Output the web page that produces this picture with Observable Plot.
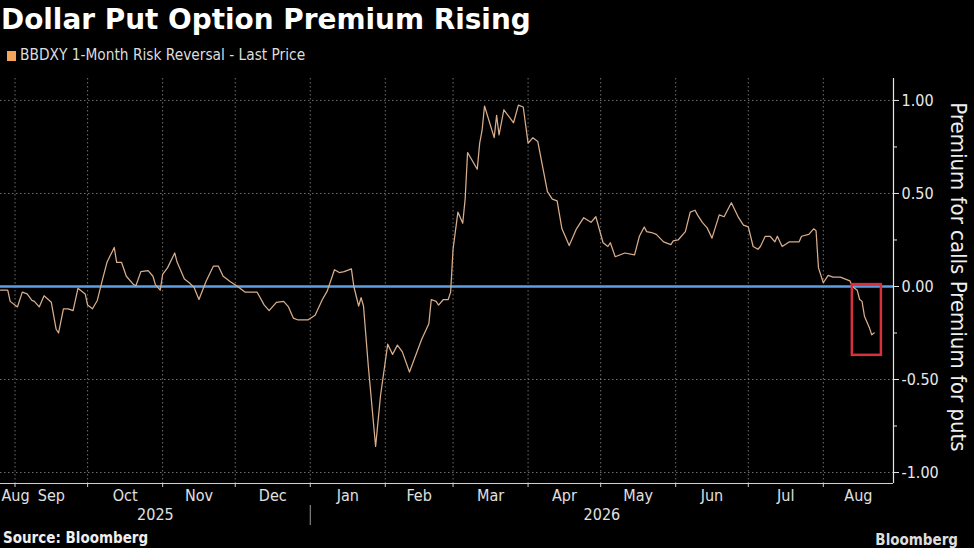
<!DOCTYPE html>
<html>
<head>
<meta charset="utf-8">
<script src="https://cdn.jsdelivr.net/npm/d3@7"></script>
<script src="https://cdn.jsdelivr.net/npm/@observablehq/plot@0.6"></script>
<style>
  html, body { margin: 0; padding: 0; background: #000; }
  body { width: 974px; height: 548px; overflow: hidden; position: relative; }
  #title { height: 42px; line-height: 40px; font-family: "DejaVu Sans", sans-serif; font-weight: bold; font-size: 27.9px; color: #fff; padding-left: 1px; white-space: nowrap; }
  #legend { height: 26px; line-height: 26px; font-family: "DejaVu Sans Condensed", "DejaVu Sans", sans-serif; font-stretch: condensed; font-size: 15.3px; color: #ddd; white-space: nowrap; }
  #legend .sw { display: inline-block; width: 9px; height: 10px; background: #f4a45c; margin-left: 7px; margin-right: 4px; vertical-align: -1px; }
  #chart { height: 460px; }
  #footer { height: 20px; line-height: 20px; font-family: "DejaVu Sans Condensed", "DejaVu Sans", sans-serif; font-stretch: condensed; font-weight: bold; font-size: 15px; color: #eee; position: relative; }
  #footer .src { position: absolute; left: 3px; top: 0; }
  #footer .brand { position: absolute; right: 16px; top: 2px; color: #ddd; }
</style>
</head>
<body>
<div id="title">Dollar Put Option Premium Rising</div>
<div id="legend"><span class="sw"></span>BBDXY 1-Month Risk Reversal - Last Price</div>
<div id="chart"></div>
<div id="footer"><span class="src">Source: Bloomberg</span><span class="brand">Bloomberg</span></div>
<script>
// ---- data ----
const dates = [
  "2025-08-26","2025-08-29","2025-08-30","2025-09-02","2025-09-04","2025-09-06","2025-09-08","2025-09-09",
  "2025-09-11","2025-09-13","2025-09-16","2025-09-18","2025-09-19","2025-09-21","2025-09-23","2025-09-25",
  "2025-09-27","2025-09-30","2025-10-01","2025-10-03","2025-10-05","2025-10-07","2025-10-09","2025-10-12",
  "2025-10-13","2025-10-15","2025-10-17","2025-10-20","2025-10-21","2025-10-23","2025-10-26","2025-10-28",
  "2025-10-29","2025-10-31","2025-11-01","2025-11-03","2025-11-06","2025-11-07","2025-11-10","2025-11-12",
  "2025-11-14","2025-11-16","2025-11-19","2025-11-22","2025-11-24","2025-11-26","2025-11-29","2025-12-02",
  "2025-12-05","2025-12-08","2025-12-10","2025-12-13","2025-12-15","2025-12-18","2025-12-21","2025-12-23",
  "2025-12-25","2025-12-27","2025-12-31","2026-01-03","2026-01-06","2026-01-08","2026-01-11","2026-01-13",
  "2026-01-15","2026-01-18","2026-01-19","2026-01-21","2026-01-22","2026-01-23","2026-01-25","2026-01-28",
  "2026-01-30","2026-02-02","2026-02-04","2026-02-06","2026-02-08","2026-02-11","2026-02-13","2026-02-16",
  "2026-02-19","2026-02-20","2026-02-22","2026-02-23","2026-02-25","2026-02-27","2026-02-28","2026-03-01",
  "2026-03-03","2026-03-05","2026-03-06","2026-03-07","2026-03-11","2026-03-12","2026-03-13","2026-03-14",
  "2026-03-18","2026-03-19","2026-03-20","2026-03-22","2026-03-26","2026-03-28","2026-03-30","2026-04-01",
  "2026-04-03","2026-04-05","2026-04-09","2026-04-11","2026-04-13","2026-04-15","2026-04-18","2026-04-21",
  "2026-04-24","2026-04-27","2026-04-29","2026-05-02","2026-05-04","2026-05-05","2026-05-07","2026-05-11",
  "2026-05-15","2026-05-17","2026-05-19","2026-05-20","2026-05-22","2026-05-24","2026-05-27","2026-05-30",
  "2026-05-31","2026-06-02","2026-06-05","2026-06-07","2026-06-09","2026-06-10","2026-06-12","2026-06-14",
  "2026-06-16","2026-06-19","2026-06-21","2026-06-22","2026-06-24","2026-06-27","2026-06-29","2026-07-01",
  "2026-07-03","2026-07-05","2026-07-06","2026-07-08","2026-07-10","2026-07-12","2026-07-13","2026-07-15",
  "2026-07-18","2026-07-22","2026-07-23","2026-07-26","2026-07-28","2026-07-29","2026-07-30","2026-08-01",
  "2026-08-03","2026-08-05","2026-08-08","2026-08-12","2026-08-13","2026-08-15","2026-08-16","2026-08-17",
  "2026-08-18","2026-08-20","2026-08-21","2026-08-22"
];
const values = [
  -0.02,-0.02,-0.08,-0.11,-0.03,-0.04,-0.075,-0.08,
  -0.11,-0.05,-0.085,-0.23,-0.25,-0.12,-0.12,-0.13,
  -0.01,-0.04,-0.10,-0.12,-0.075,0.03,0.13,0.21,
  0.13,0.13,0.055,0.01,0.005,0.08,0.085,0.055,
  0.01,-0.02,0.065,0.10,0.18,0.13,0.04,0.02,
  -0.005,-0.07,0.03,0.11,0.11,0.055,0.025,0.0,
  -0.03,-0.03,-0.03,-0.10,-0.13,-0.085,-0.08,-0.11,
  -0.17,-0.18,-0.18,-0.155,-0.07,-0.025,0.09,0.075,
  0.08,0.095,0.0,-0.105,-0.06,-0.105,-0.43,-0.86,
  -0.59,-0.31,-0.365,-0.315,-0.35,-0.46,-0.39,-0.285,
  -0.20,-0.07,-0.08,-0.10,-0.07,-0.07,-0.03,0.20,
  0.40,0.34,0.47,0.72,0.63,0.77,0.84,0.97,
  0.80,0.92,0.815,0.95,0.88,0.975,0.965,0.77,
  0.80,0.78,0.51,0.47,0.46,0.31,0.22,0.31,
  0.37,0.345,0.375,0.235,0.215,0.235,0.16,0.18,
  0.17,0.27,0.32,0.295,0.29,0.28,0.24,0.225,
  0.245,0.25,0.295,0.40,0.41,0.385,0.345,0.315,
  0.26,0.385,0.375,0.40,0.45,0.37,0.33,0.32,
  0.215,0.20,0.215,0.27,0.27,0.24,0.27,0.215,
  0.24,0.24,0.27,0.28,0.31,0.30,0.10,0.02,
  0.06,0.05,0.05,0.03,0.0,-0.02,-0.07,-0.08,
  -0.16,-0.22,-0.26,-0.25
];
const monthNames = ["Aug","Sep","Oct","Nov","Dec","Jan","Feb","Mar","Apr","May","Jun","Jul","Aug"];
const monthStarts = ["2025-08-01","2025-09-01","2025-10-01","2025-11-01","2025-12-01","2026-01-01","2026-02-01",
  "2026-03-01","2026-04-01","2026-05-01","2026-06-01","2026-07-01","2026-08-01","2026-09-01"];
const yearLabels = ["2025","2026"];
const yearStarts = ["2025-01-01","2026-01-01","2027-01-01"];
const yTicks = [-1, -0.5, 0, 0.5, 1];
const yMinorTicks = [-0.75, -0.25, 0.25, 0.75];
const yGrid = [-1, -0.5, 0.5, 1];
const xDomain = ["2025-08-26","2026-08-30"];
const yDomain = [-1.059, 1.118];
const highlight = [{x1: "2026-08-13", x2: "2026-08-25", y1: 0.01, y2: -0.37}];
const axisTitle = "Premium for calls Premium for puts";

// ---- build ----
const P = s => new Date(s + "T00:00:00Z");
const data = dates.map((d, i) => ({date: P(d), value: values[i]}));
const d0 = P(xDomain[0]), d1 = P(xDomain[1]);
const ms = monthStarts.map(P);
const gridMonths = ms.filter(d => d > d0 && d < d1);
const monthLabelData = monthNames.map((name, i) => {
  const a = ms[i] < d0 ? d0 : ms[i];
  const b = ms[i + 1] > d1 ? d1 : ms[i + 1];
  const narrow = (b - a) < 10 * 864e5;
  return {name, date: narrow ? a : new Date((+a + +b) / 2), narrow};
});
const ys = yearStarts.map(P);
const yearLabelData = yearLabels.map((name, i) => {
  const a = ys[i] < d0 ? d0 : ys[i];
  const b = ys[i + 1] > d1 ? d1 : ys[i + 1];
  return {name, date: new Date((+a + +b) / 2)};
});
const yearSeps = ys.filter(d => d > d0 && d < d1);
const hl = highlight.map(h => ({x1: P(h.x1), x2: P(h.x2), y1: h.y1, y2: h.y2}));

const FONT = "'DejaVu Sans Condensed', 'DejaVu Sans', sans-serif";
const chart = Plot.plot({
  width: 974,
  height: 460,
  marginLeft: 0,
  marginRight: 81,
  marginTop: 10,
  marginBottom: 45,
  style: {background: "#000", color: "#ddd", fontFamily: FONT, fontSize: "16px", fontStretch: "condensed"},
  x: {type: "utc", domain: [d0, d1]},
  y: {domain: yDomain},
  marks: [
    Plot.gridX(gridMonths, {stroke: "#8a8a8a", strokeOpacity: 0.8, strokeDasharray: "1.5,2.5"}),
    Plot.gridY(yGrid, {stroke: "#8a8a8a", strokeOpacity: 0.8, strokeDasharray: "1.5,2.5"}),
    Plot.ruleY([0], {stroke: "#5d9fe4", strokeWidth: 2.6}),
    Plot.lineY(data, {x: "date", y: "value", stroke: "#d8ae8c", strokeWidth: 1.25}),
    Plot.rect(hl, {x1: "x1", x2: "x2", y1: "y1", y2: "y2", fill: "none", stroke: "#d8303c", strokeWidth: 2.5}),
    Plot.ruleX([d1], {stroke: "#e6e6e6", strokeWidth: 1.2}),
    Plot.ruleY([yDomain[0]], {stroke: "#cfcfcf", strokeWidth: 1.2}),
    Plot.axisY({anchor: "right", ticks: yTicks, tickFormat: d => d.toFixed(2), tickSize: 5, tickPadding: 3,
      stroke: "#e6e6e6", fill: "#e8e8e8", fontSize: 16, label: null}),
    Plot.axisY({anchor: "right", ticks: yMinorTicks, tickFormat: () => "", tickSize: 3, stroke: "#e6e6e6", label: null}),
    Plot.axisX({ticks: gridMonths, tickSize: 4, tickFormat: () => "", stroke: "#cfcfcf", label: null}),
    Plot.axisX({ticks: yearSeps, tickSize: 20, dy: 22, tickFormat: () => "", stroke: "#9a9a9a", label: null}),
    Plot.text(monthLabelData.filter(d => !d.narrow), {x: "date", text: "name", textAnchor: "middle", frameAnchor: "bottom", dy: 17,
      fill: "#e0e0e0", fontSize: 16}),
    Plot.text(monthLabelData.filter(d => d.narrow), {x: "date", text: "name", textAnchor: "start", frameAnchor: "bottom", dy: 17, dx: 1,
      fill: "#e0e0e0", fontSize: 16}),
    Plot.text(yearLabelData, {x: "date", text: "name", textAnchor: "middle", frameAnchor: "bottom", dy: 36, fill: "#e0e0e0", fontSize: 16}),
    Plot.text([axisTitle], {frameAnchor: "right", textAnchor: "middle", dx: 65, dy: -4, rotate: 90, fill: "#eeeeee", fontSize: 22})
  ]
});
document.getElementById("chart").appendChild(chart);
</script>
</body>
</html>
